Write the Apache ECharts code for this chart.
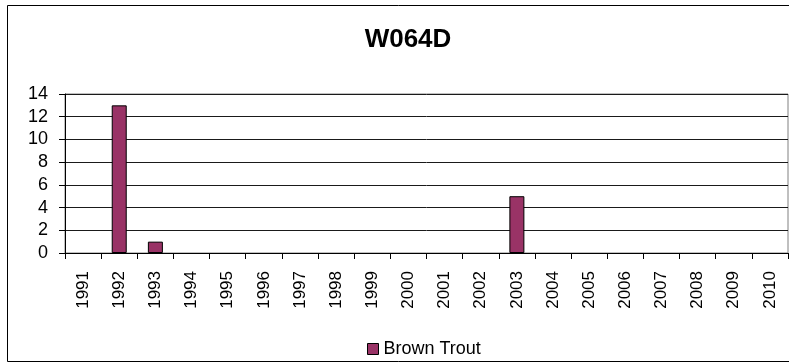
<!DOCTYPE html>
<html>
<head>
<meta charset="utf-8">
<script src="https://cdn.jsdelivr.net/npm/echarts@6/dist/echarts.min.js"></script>
<style>
  html, body { margin: 0; padding: 0; background: #fff; }
  #chart { width: 789px; height: 363px; }
</style>
</head>
<body>
<div id="chart"></div>
<script>
// Survey years on the category axis
var years = ['1991', '1992', '1993', '1994', '1995', '1996', '1997', '1998', '1999', '2000',
             '2001', '2002', '2003', '2004', '2005', '2006', '2007', '2008', '2009', '2010'];
// Brown trout counts per year
var brownTrout = [0, 13, 1, 0, 0, 0, 0, 0, 0, 0, 0, 0, 5, 0, 0, 0, 0, 0, 0, 0];
// Value axis range and step
var yMin = 0, yMax = 14, yStep = 2;

var FONT = '"Liberation Sans", Arial, sans-serif';

// Zero-height bars get no outline so no stub appears on the baseline
var barData = brownTrout.map(function (v) {
  return v === 0 ? { value: v, itemStyle: { borderWidth: 0 } } : v;
});

var chart = echarts.init(document.getElementById('chart'), null, { renderer: 'canvas' });
chart.setOption({
  backgroundColor: '#fff',
  animation: false,
  title: {
    text: 'W064D',
    left: 403,
    top: 22,
    textAlign: 'center',
    textStyle: { fontFamily: FONT, fontSize: 26, fontWeight: 'bold', color: '#000' }
  },
  graphic: [{
    type: 'rect',
    shape: { x: 7.5, y: 5.5, width: 800, height: 356 },
    style: { fill: 'none', stroke: '#000', lineWidth: 1 },
    silent: true, z: 100
  }],
  legend: {
    data: ['Brown Trout'],
    left: 362,
    top: 335,
    icon: 'rect',
    itemWidth: 11,
    itemHeight: 11,
    itemStyle: { borderColor: '#000', borderWidth: 1 },
    textStyle: { fontFamily: FONT, fontSize: 18, color: '#000' }
  },
  grid: {
    left: 65, top: 94, right: 1, bottom: 110,
    show: true, borderColor: '#808080', borderWidth: 1, backgroundColor: 'transparent'
  },
  xAxis: {
    type: 'category',
    data: years,
    boundaryGap: true,
    axisLine: { lineStyle: { color: '#000', width: 1 } },
    axisTick: { show: true, length: 6, alignWithLabel: false, lineStyle: { color: '#000' } },
    axisLabel: { rotate: 90, margin: 18, interval: 0, fontFamily: FONT, fontSize: 17, color: '#000' },
    splitLine: { show: false }
  },
  yAxis: {
    type: 'value',
    min: yMin, max: yMax, interval: yStep,
    axisLine: { show: true, lineStyle: { color: '#000', width: 1 } },
    axisTick: { show: true, length: 6, lineStyle: { color: '#000' } },
    axisLabel: { margin: 17, fontFamily: FONT, fontSize: 18, color: '#000' },
    splitLine: { show: true, lineStyle: { color: '#1a1a1a', width: 1 } }
  },
  series: [{
    name: 'Brown Trout',
    type: 'bar',
    data: barData,
    barWidth: 15,
    itemStyle: { color: '#993366', borderColor: '#000', borderWidth: 1 }
  }]
});
</script>
</body>
</html>
